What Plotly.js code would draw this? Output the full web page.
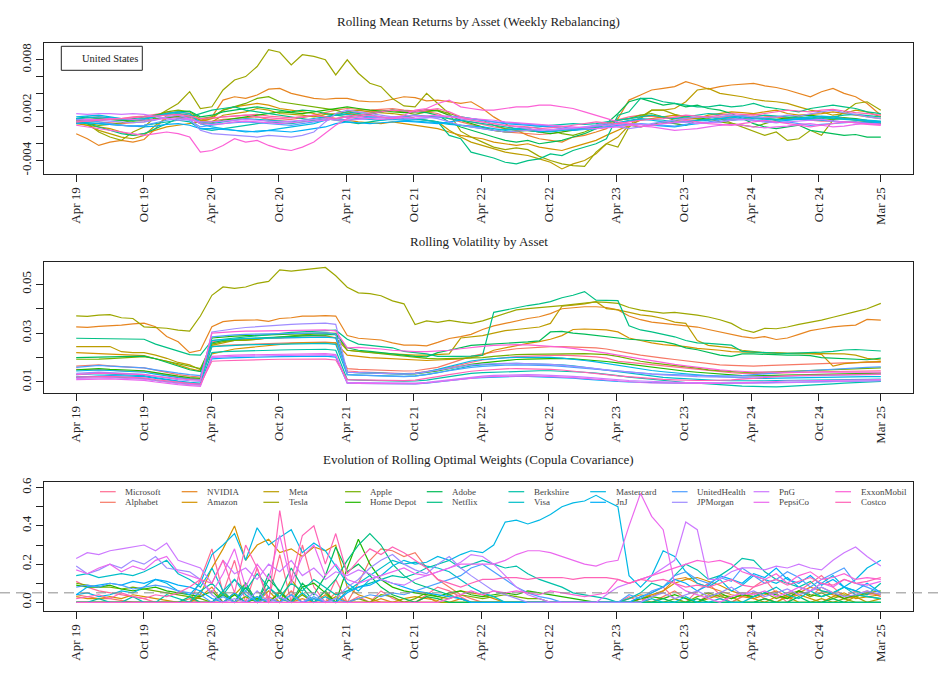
<!DOCTYPE html>
<html>
<head>
<meta charset="utf-8">
<script src="https://cdn.plot.ly/plotly-3.0.1.min.js"></script>
<style>
  body { margin: 0; background: #fff; }
  #chart { width: 943px; height: 700px; }
</style>
</head>
<body>
<div id="chart"></div>
<script>
// monthly samples
const dates = [
  '2019-04-12','2019-05-12','2019-06-12','2019-07-12','2019-08-12','2019-09-12','2019-10-12','2019-11-12','2019-12-12','2020-01-12','2020-02-12','2020-03-12',
  '2020-04-12','2020-05-12','2020-06-12','2020-07-12','2020-08-12','2020-09-12','2020-10-12','2020-11-12','2020-12-12','2021-01-12','2021-02-12','2021-03-12',
  '2021-04-12','2021-05-12','2021-06-12','2021-07-12','2021-08-12','2021-09-12','2021-10-12','2021-11-12','2021-12-12','2022-01-12','2022-02-12','2022-03-12',
  '2022-04-12','2022-05-12','2022-06-12','2022-07-12','2022-08-12','2022-09-12','2022-10-12','2022-11-12','2022-12-12','2023-01-12','2023-02-12','2023-03-12',
  '2023-04-12','2023-05-12','2023-06-12','2023-07-12','2023-08-12','2023-09-12','2023-10-12','2023-11-12','2023-12-12','2024-01-12','2024-02-12','2024-03-12',
  '2024-04-12','2024-05-12','2024-06-12','2024-07-12','2024-08-12','2024-09-12','2024-10-12','2024-11-12','2024-12-12','2025-01-12','2025-02-12','2025-03-21'
];
const tickDates = ['2019-04-12','2019-10-11','2020-04-10','2020-10-09','2021-04-09','2021-10-08','2022-04-08','2022-10-07','2023-04-07','2023-10-06','2024-04-05','2024-10-04','2025-03-21'];
const tickLabels = ['Apr 19','Oct 19','Apr 20','Oct 20','Apr 21','Oct 21','Apr 22','Oct 22','Apr 23','Oct 23','Apr 24','Oct 24','Mar 25'];

const assets = ['Microsoft','Alphabet','NVIDIA','Amazon','Meta','Tesla','Apple','Home Depot','Adobe','Netflix',
  'Berkshire','Visa','Mastercard','JnJ','UnitedHealth','JPMorgan','PnG','PepsiCo','ExxonMobil','Costco'];

// rolling mean returns, units of 1e-4
const retMicrosoft = [10,11,12,11,10,12,13,15,17,18,16,8, 10,12,13,14,15,13,12,11,12,13,12,14, 16,17,18,19,20,18,19,21,20,14,8,6, 3,0,-2,-3,-4,-6,-5,-3,-2,-1,2,5, 9,12,14,13,12,11,10,11,12,11,10,9, 10,11,12,11,9,8,7,7,6,6,5,4];
const retAlphabet = [8,7,6,5,4,5,6,9,12,13,12,6, 7,9,10,11,12,9,8,9,11,14,17,20, 22,21,20,21,22,20,19,18,16,10,6,3, 0,-4,-6,-7,-8,-9,-8,-6,-3,-1,2,5, 8,10,12,13,11,10,9,10,11,12,13,14, 15,13,12,10,9,10,11,12,11,9,7,6];
const retNVIDIA = [-8,-14,-22,-18,-16,-18,-15,-2,14,16,14,8, 12,32,36,34,38,45,46,40,37,34,33,34, 34,31,30,30,33,36,35,31,32,30,28,30, 22,12,4,-4,-10,-14,-16,-18,-12,-10,-6,-2, 10,32,38,44,46,48,54,50,45,48,50,51, 52,49,47,44,40,36,42,46,40,36,28,14];
const retAmazon = [4,2,0,-2,-6,-10,-8,-4,0,2,4,6, 10,20,24,26,28,26,22,20,18,16,12,10, 8,6,5,4,6,4,2,0,-2,-6,-10,-12, -14,-18,-20,-22,-20,-24,-26,-28,-24,-20,-16,-10, -4,2,8,10,12,14,12,10,14,16,18,17, 16,18,20,16,14,15,16,18,16,14,12,10];
const retMeta = [5,2,-4,-8,-12,-14,-10,2,10,14,16,8, 6,14,16,18,22,20,16,15,14,12,15,16, 18,20,18,17,16,14,10,8,6,-4,-12,-18, -22,-26,-30,-32,-34,-38,-42,-50,-44,-40,-32,-20, -12,2,12,20,20,22,30,44,46,40,38,36, 33,31,30,28,24,20,18,14,16,20,18,12];
const retTesla = [8,4,-6,-12,-16,-6,0,12,20,28,42,22, 24,44,56,60,72,92,89,74,86,84,80,62, 80,64,52,48,34,25,24,40,28,16,-5,-12, -18,-24,-27,-25,-27,-35,-40,-44,-46,-47,-30,-20, -24,0,10,20,20,15,12,10,8,10,5,0, -5,-10,-6,-16,-14,-4,-10,8,18,28,30,20];
const retApple = [6,4,2,3,5,8,10,14,18,20,18,10, 12,20,24,28,34,36,30,28,26,24,22,20, 16,14,15,18,20,17,15,18,20,16,12,10, 8,2,-2,-4,-2,-6,-4,-8,-10,-6,0,4, 8,10,14,16,12,8,6,8,10,6,4,2, 0,4,8,10,12,10,8,9,10,8,6,4];
const retHomeDepot = [8,9,10,9,8,7,8,10,11,12,10,4, 5,8,10,12,14,16,18,17,16,18,20,22, 24,22,20,19,18,17,18,20,19,14,8,4, 0,-4,-6,-5,-4,-6,-8,-6,-4,-2,0,2, 4,2,0,3,6,4,2,8,12,10,8,10, 12,10,9,11,13,14,12,10,11,10,8,6];
const retAdobe = [10,12,10,9,8,10,12,14,16,18,19,12, 14,18,20,22,24,22,20,18,20,19,16,14, 12,14,16,18,20,19,18,17,14,6,0,-4, -8,-12,-16,-18,-16,-20,-18,-16,-12,-8,-2,4, 16,30,34,30,26,28,24,26,22,20,16,10, 4,0,-2,0,2,-4,-6,-8,-10,-9,-12,-12];
const retNetflix = [6,4,0,-4,-8,-10,-8,-2,4,10,12,16, 20,22,24,20,18,16,14,12,10,8,10,8, 6,4,6,8,10,12,10,8,6,-10,-14,-30, -34,-37,-42,-44,-40,-38,-32,-34,-28,-24,-20,-14, 14,18,34,34,30,28,26,24,24,26,24,25, 28,24,22,20,18,22,24,26,24,22,18,16];
const retBerkshire = [6,5,4,3,2,1,2,4,6,8,6,-2, -4,-2,0,2,4,6,5,4,6,8,12,14, 18,16,14,12,10,12,14,13,12,10,8,6, 4,2,0,-2,-1,0,2,3,4,3,4,6, 8,10,12,14,12,10,12,14,16,15,14,13, 12,14,13,12,11,12,10,12,14,15,14,12];
const retVisa = [10,11,12,11,9,8,9,12,15,16,14,6, 4,6,8,10,9,8,7,6,8,10,12,14, 15,13,12,11,12,10,9,8,6,4,2,0, -2,-4,-3,-2,-4,-6,-5,-4,-3,-2,0,2, 5,8,10,9,8,6,7,8,9,10,12,13, 12,10,9,8,9,10,11,10,9,8,7,6];
const retMastercard = [12,13,14,12,10,9,10,13,16,18,16,4, 0,-2,-4,-6,-5,-4,-2,0,2,4,8,10, 12,10,9,8,9,8,7,6,5,3,2,1, 0,-2,-4,-3,-2,-5,-6,-4,-2,-1,1,3, 5,7,9,8,6,5,6,7,8,10,11,12, 10,9,8,9,10,12,13,12,10,9,8,7];
const retJnJ = [4,5,4,3,2,1,0,1,3,4,2,-2, -2,-3,-4,-5,-6,-4,-5,-6,-4,-2,0,4, 6,5,4,5,6,7,6,5,4,6,8,10, 8,6,4,3,2,1,0,-2,-4,-3,-2,0, 2,4,3,2,1,0,2,4,5,6,8,9, 8,7,6,8,10,9,8,7,6,5,6,5];
const retUnitedHealth = [9,8,6,4,2,1,2,5,8,10,8,0, 2,4,5,6,5,4,3,2,4,6,8,10, 8,10,12,11,10,9,10,11,12,13,12,10, 8,6,5,4,3,2,1,0,-2,-3,-2,0, 1,2,4,3,2,1,3,5,6,8,9,10, 8,6,5,6,4,2,3,4,5,6,4,3];
const retJPMorgan = [6,7,8,7,6,5,6,8,12,14,10,-4, -8,-9,-10,-11,-12,-10,-11,-12,-10,-6,6,16, 20,18,16,14,12,13,14,12,10,6,2,0, -2,-4,-6,-5,-4,-3,-4,-3,-2,0,2,4, 0,-2,0,4,6,8,10,12,11,12,14,13, 12,11,12,14,13,16,18,20,17,15,12,10];
const retPnG = [16,15,16,16,15,16,15,12,10,8,9,6, 6,7,8,9,8,7,6,7,8,9,10,8, 8,9,10,11,12,11,10,11,12,13,10,8, 6,4,2,0,-2,-4,-3,-2,-1,0,1,2, 3,4,3,2,4,5,6,4,5,6,8,9, 8,6,5,6,7,8,9,7,6,5,4,3];
const retPepsiCo = [8,9,9,10,10,9,8,9,10,11,10,4, 3,4,6,7,6,5,4,5,6,7,8,10, 12,11,10,9,10,11,12,13,14,12,11,10, 9,8,6,5,4,3,2,1,0,-1,-2,-1, 0,2,1,0,-2,-4,-3,-2,0,2,3,2, 0,-1,0,1,3,4,2,0,1,3,4,3];
const retExxonMobil = [2,0,-2,-4,-6,-8,-10,-8,-6,-8,-12,-30, -28,-22,-14,-18,-16,-22,-26,-28,-24,-18,-8,2, 10,12,14,12,10,14,20,22,28,32,24,22, 20,20,22,24,24,26,26,24,22,18,14,10, 6,4,0,2,4,6,8,6,4,3,2,4, 6,8,6,4,2,0,2,4,6,5,3,2];
const retCostco = [6,7,8,9,10,11,12,13,14,15,13,10, 11,12,13,14,12,11,10,11,12,14,12,10, 13,14,16,18,20,19,18,20,22,18,12,8, 6,4,2,1,0,-2,-1,0,2,4,6,5, 4,6,8,9,10,12,14,13,12,14,16,15, 14,16,18,20,19,18,20,21,19,17,16,14];

// rolling volatility, units of 1e-3
const volMicrosoft = [15.2,15.0,15.1,14.8,14.5,14.3,14.4,13.5,12.6,12.0,11.5,11.2, 26.5,27.0,27.3,27.5,27.6,27.8,28.0,28.2,28.3,28.4,28.5,28.2, 14.5,14.2,14.0,13.8,13.5,13.4,13.6,14.2,15.0,16.0,17.2,18.0, 19.0,19.6,20.0,20.4,20.6,20.8,21.0,21.0,20.8,20.6,20.3,19.8, 18.5,18.0,17.5,17.0,16.5,16.0,15.5,15.0,14.6,14.2,13.8,13.5, 13.4,13.5,13.6,13.8,14.0,14.1,14.2,14.3,14.4,14.5,14.5,14.6];
const volAlphabet = [16.5,16.8,17.0,16.6,16.2,16.0,15.8,14.8,13.8,13.0,12.4,12.0, 24.5,25.0,25.2,25.4,25.5,25.6,25.8,26.0,26.1,26.2,26.3,26.0, 15.5,15.2,15.0,14.8,14.6,14.5,14.6,15.2,16.0,17.5,19.0,20.5, 21.5,22.3,23.0,23.6,24.0,24.3,24.5,24.5,24.4,24.2,24.0,23.5, 22.5,21.8,21.0,20.3,19.8,19.2,18.6,18.0,17.5,17.0,16.8,16.6, 16.5,16.7,16.9,17.0,17.2,17.4,17.5,17.6,17.8,17.9,18.0,18.1];
const volNVIDIA = [32.6,32.4,32.8,33.0,33.3,33.8,34.1,32.6,28.6,26.5,22.0,23.0, 32.6,34.7,35.2,35.3,35.4,34.8,36.0,36.3,37.0,37.0,37.2,37.0, 29.0,27.9,27.5,27.2,26.0,25.1,25.1,24.8,26.2,27.8,28.6,29.5, 31.5,33.0,34.0,35.0,36.0,36.7,38.0,40.0,40.5,40.8,40.8,40.5, 39.5,37.0,35.5,34.5,34.0,33.5,33.3,32.5,31.5,30.5,29.5,28.6, 28.0,28.6,27.4,28.0,29.5,31.0,31.8,32.6,33.0,33.3,35.6,35.3];
const volAmazon = [22.0,21.8,21.5,21.3,21.2,21.0,20.8,19.5,18.5,17.0,15.5,14.5, 21.5,22.5,23.5,24.0,24.5,25.0,25.5,25.8,26.0,26.0,26.2,26.0, 21.0,20.5,20.0,19.8,19.5,19.2,19.0,18.8,19.0,19.2,19.5,20.0, 21.0,23.0,24.0,25.0,25.8,26.5,27.5,29.0,31.5,31.7,31.5,31.3, 30.5,28.0,27.0,26.0,25.3,25.0,24.5,23.8,23.5,23.0,22.4,22.2, 22.0,21.8,21.8,21.7,21.7,21.6,21.3,16.5,17.5,18.0,18.2,18.3];
const volMeta = [24.5,24.5,24.8,24.5,22.4,22.0,22.0,21.0,19.7,18.0,17.0,15.0, 25.0,26.0,27.0,27.0,27.5,28.0,28.0,28.5,29.0,29.0,29.0,28.0, 23.0,22.5,22.0,21.8,21.5,21.2,21.0,21.0,21.2,21.5,28.0,28.5, 29.0,30.0,31.0,31.5,32.0,32.5,34.0,41.0,41.5,42.0,42.9,40.0, 39.5,38.5,37.5,37.0,36.0,34.5,34.0,27.0,25.0,24.5,24.0,23.0, 22.5,22.0,22.0,21.7,21.7,21.7,21.8,21.7,21.5,21.0,19.7,19.0];
const volTesla = [37.1,36.9,37.4,37.6,36.3,36.0,32.6,32.4,32.0,31.2,30.8,37.0, 45.5,48.9,48.3,48.9,50.4,51.2,55.9,55.4,56.0,56.4,56.9,53.5, 48.8,46.5,46.2,45.3,43.2,42.0,33.5,35.0,34.4,35.2,34.5,34.0, 35.0,36.5,38.0,39.5,40.0,40.4,40.7,41.3,41.8,42.3,42.8,42.6, 42.2,40.5,39.4,38.8,38.2,38.5,38.0,37.4,36.6,35.5,34.0,31.5, 30.3,32.0,31.8,32.5,33.6,34.4,35.3,36.5,37.5,38.8,40.0,42.2];
const volApple = [19.3,19.2,19.4,19.6,19.8,20.0,20.4,19.5,18.5,17.5,16.3,15.5, 25.5,26.5,27.0,27.2,27.5,28.0,28.5,29.0,29.3,29.6,29.8,29.9, 23.0,22.5,22.0,21.5,21.0,20.5,20.0,19.7,19.5,19.7,19.8,20.0, 20.0,20.5,21.0,21.2,21.3,21.4,21.5,21.6,21.7,21.6,21.4,21.2, 20.5,19.5,18.5,17.8,17.3,16.8,16.3,15.7,15.0,14.6,14.3,14.0, 13.8,14.0,14.2,14.4,14.6,14.8,14.9,15.0,15.2,15.4,15.6,15.8];
const volHomeDepot = [15.0,15.3,15.5,15.2,15.0,14.8,14.6,13.8,13.0,12.4,11.8,11.5, 28.0,28.5,28.8,29.0,29.2,29.4,29.6,29.8,29.9,30.0,30.1,29.8, 14.0,13.8,13.6,13.5,13.3,13.2,13.3,13.8,14.5,15.5,16.5,17.2, 17.8,18.3,18.8,19.2,19.4,19.6,19.8,19.7,19.5,19.2,18.8,18.4, 17.8,17.2,16.6,16.0,15.4,14.9,14.4,14.0,13.6,13.2,12.9,12.6, 12.5,12.6,12.7,12.8,13.0,13.1,13.2,13.3,13.4,13.5,13.5,13.6];
const volAdobe = [20.0,20.0,20.2,20.3,20.4,20.5,20.6,19.5,18.0,16.5,15.0,14.3, 26.0,27.0,27.5,27.8,28.0,28.2,28.5,28.8,29.0,29.2,29.4,29.5, 24.0,23.0,22.5,22.0,21.5,21.0,20.5,20.3,22.0,23.0,24.0,25.0, 25.3,25.5,25.8,26.0,26.4,26.8,30.5,30.7,30.0,29.6,29.0,28.5, 28.0,27.5,27.2,27.0,26.5,25.5,24.0,23.2,22.0,21.0,20.5,21.5, 21.5,21.3,21.2,21.0,21.0,20.8,20.0,19.7,19.5,19.3,19.1,19.8];
const volNetflix = [27.9,27.8,27.6,27.7,27.7,27.6,27.5,25.5,24.0,22.5,21.2,21.0, 27.0,27.5,28.0,28.5,29.0,29.5,30.0,30.3,30.5,30.7,31.0,31.2, 27.5,25.5,25.0,24.6,24.0,22.5,22.0,21.5,20.5,20.4,20.5,20.6, 21.0,38.5,39.5,40.5,41.3,42.0,42.9,44.5,45.5,47.0,43.5,43.4, 43.3,33.0,31.3,30.5,29.5,28.5,27.0,26.0,25.8,25.4,25.1,22.5, 22.2,22.0,21.8,21.7,21.8,22.0,22.2,22.5,23.1,23.3,23.0,22.7];
const volBerkshire = [12.0,12.2,12.3,12.1,11.8,11.6,11.4,10.6,10.0,9.5,9.0,8.8, 22.0,22.4,22.6,22.8,22.9,23.0,23.1,23.2,23.3,23.4,23.4,23.0, 11.0,10.8,10.6,10.5,10.4,10.3,10.4,10.8,11.5,12.2,13.0,13.5, 13.8,14.0,14.2,14.4,14.5,14.6,14.6,14.5,14.3,14.0,13.6,13.2, 12.6,12.0,11.5,11.0,10.6,10.2,9.8,9.5,9.3,9.0,8.6,8.3, 8.1,8.0,8.0,8.2,8.4,8.6,8.9,9.2,9.5,9.8,10.0,10.2];
const volVisa = [13.0,13.2,13.4,13.2,13.0,12.8,12.6,11.8,11.0,10.4,9.9,9.6, 24.5,24.8,25.0,25.2,25.3,25.4,25.5,25.6,25.7,25.8,25.8,25.4, 13.0,12.8,12.6,12.5,12.4,12.3,12.5,13.0,13.8,14.8,15.8,16.6, 17.0,17.3,17.5,17.6,17.5,17.4,17.3,17.0,16.6,16.0,15.4,14.8, 14.0,13.4,12.8,12.3,11.9,11.6,11.3,11.0,10.8,10.6,10.5,10.4, 10.4,10.5,10.6,10.7,10.8,10.8,10.9,11.0,11.0,11.1,11.1,11.2];
const volMastercard = [14.5,14.7,14.9,14.7,14.4,14.2,14.0,13.2,12.4,11.8,11.2,10.9, 27.0,27.4,27.6,27.8,27.9,28.0,28.1,28.2,28.3,28.4,28.4,28.0, 14.0,13.8,13.6,13.5,13.4,13.3,13.5,14.2,15.2,16.4,17.6,18.6, 19.2,19.6,19.9,20.1,20.2,20.2,20.1,19.8,19.4,18.8,18.2,17.5, 16.8,16.0,15.3,14.7,14.2,13.7,13.3,12.9,12.5,12.2,11.9,11.7, 11.5,11.5,11.6,11.7,11.8,11.9,12.0,12.0,12.1,12.1,12.2,12.2];
const volJnJ = [12.0,12.2,12.5,12.6,12.5,12.3,12.2,11.5,10.8,10.2,9.6,9.2, 19.5,19.8,20.0,20.1,20.2,20.3,20.4,20.5,20.5,20.6,20.6,20.2, 9.5,9.4,9.3,9.2,9.2,9.1,9.2,9.5,10.0,10.6,11.2,11.6, 11.8,12.0,12.2,12.3,12.3,12.2,12.1,11.9,11.6,11.2,10.8,10.4, 10.2,10.0,9.8,9.7,9.6,9.5,9.5,9.4,9.4,9.4,9.5,9.5, 9.6,9.7,9.8,9.9,10.0,10.1,10.2,10.3,10.4,10.4,10.5,10.5];
const volUnitedHealth = [16.0,16.4,16.8,16.5,16.2,16.0,15.8,15.0,14.2,13.6,13.0,12.6, 28.5,29.0,29.3,29.5,29.6,29.7,29.8,29.9,30.0,30.1,30.1,29.6, 13.0,12.8,12.6,12.4,12.3,12.2,12.4,13.0,13.8,14.6,15.4,16.0, 16.4,16.7,16.9,17.0,17.0,16.9,16.7,16.4,16.0,15.6,15.2,14.8, 14.4,14.0,13.6,13.3,13.1,12.9,12.8,12.7,12.6,12.5,12.5,12.6, 13.0,13.4,13.8,14.1,14.4,14.7,15.0,15.3,15.6,15.8,16.0,16.2];
const volJPMorgan = [13.5,13.8,14.0,13.8,13.5,13.3,13.1,12.3,11.6,11.0,10.5,10.3, 30.5,31.2,31.8,32.3,32.7,33.0,33.3,33.6,33.8,34.0,34.1,33.6, 14.0,13.8,13.6,13.4,13.3,13.2,13.4,14.0,14.8,15.6,16.4,17.0, 17.3,17.5,17.6,17.6,17.5,17.4,17.2,16.9,16.5,16.0,15.5,15.0, 14.5,14.0,13.6,13.2,12.9,12.6,12.4,12.2,12.1,12.0,12.0,12.0, 12.1,12.2,12.3,12.4,12.5,12.6,12.7,12.8,12.9,13.0,13.0,13.1];
const volPnG = [11.5,11.7,11.9,11.8,11.6,11.4,11.2,10.5,9.9,9.4,9.0,8.7, 20.0,20.3,20.5,20.6,20.7,20.8,20.9,21.0,21.0,21.1,21.1,20.7, 9.8,9.7,9.6,9.5,9.4,9.4,9.5,9.9,10.4,11.0,11.6,12.0, 12.4,12.7,12.9,13.0,13.0,12.9,12.8,12.6,12.3,12.0,11.6,11.2, 10.9,10.6,10.4,10.2,10.0,9.9,9.8,9.7,9.6,9.5,9.5,9.5, 9.5,9.6,9.7,9.8,9.9,10.0,10.1,10.2,10.3,10.3,10.4,10.5];
const volPepsiCo = [11.0,11.2,11.4,11.3,11.1,10.9,10.7,10.0,9.4,8.9,8.5,8.2, 20.5,20.8,21.0,21.1,21.2,21.3,21.4,21.5,21.5,21.6,21.6,21.2, 9.5,9.4,9.3,9.2,9.1,9.1,9.2,9.6,10.1,10.7,11.3,11.7, 12.0,12.2,12.4,12.5,12.5,12.4,12.3,12.1,11.8,11.5,11.1,10.7, 10.3,10.0,9.8,9.6,9.5,9.4,9.4,9.4,9.4,9.4,9.5,9.6, 9.8,10.0,10.2,10.4,10.5,10.6,10.7,10.8,10.9,10.9,11.0,11.0];
const volExxonMobil = [13.0,13.3,13.6,13.5,13.4,13.2,13.0,12.4,11.8,11.4,11.0,10.8, 30.0,30.4,30.6,30.8,30.9,31.0,31.1,31.2,31.2,31.3,31.3,30.9, 24.0,24.2,24.0,23.5,23.0,22.6,22.4,22.4,22.6,23.0,23.6,24.2, 24.6,25.0,25.2,25.3,25.2,25.0,24.7,24.3,23.8,23.2,22.5,21.8, 21.0,20.2,19.4,18.6,17.9,17.2,16.6,16.0,15.5,15.0,14.6,14.3, 14.1,14.0,13.9,13.9,13.9,14.0,14.0,14.0,14.0,14.0,14.0,14.0];
const volCostco = [12.0,12.2,12.4,12.3,12.1,11.9,11.7,11.0,10.4,9.9,9.4,9.1, 18.5,18.7,18.9,19.0,19.1,19.2,19.3,19.3,19.4,19.4,19.4,19.0, 11.0,10.9,10.8,10.7,10.6,10.6,10.8,11.4,12.2,13.0,13.8,14.4, 14.8,15.2,15.4,15.5,15.5,15.4,15.2,14.9,14.5,14.0,13.5,13.0, 12.5,12.1,11.7,11.4,11.1,10.9,10.7,10.6,10.6,10.7,10.9,11.2, 11.6,12.0,12.3,12.5,12.7,12.8,12.9,13.0,13.0,13.1,13.1,13.2];

// optimal weights, percent
const wMicrosoft = [11,8,6,5,4,3,2,0,0,0,0,12, 28,5,22,0,18,2,25,0,30,8,0,12, 0,3,0,6,2,0,0,4,8,6,3,0, 0,0,0,0,0,0,0,0,0,0,0,0, 0,3,0,5,8,2,0,6,10,4,0,3, 8,12,5,0,6,10,14,8,3,6,4,5];
const wAlphabet = [4,3,2,2,1,0,0,0,0,0,2,0, 0,4,0,8,0,3,0,6,0,2,0,5, 0,10,22,28,27,24,26,18,12,8,4,2, 0,0,0,0,0,0,0,0,0,0,0,0, 0,0,2,0,3,6,2,0,4,2,0,3, 5,2,0,4,6,3,8,5,2,4,6,3];
const wNVIDIA = [0,0,0,0,0,0,0,0,0,0,0,3, 8,0,5,0,3,0,6,0,2,0,4,0, 0,0,0,2,0,0,0,3,0,0,2,0, 0,0,0,0,0,0,0,0,0,0,0,0, 0,2,4,3,6,12,13,10,8,6,4,3, 2,4,6,3,5,8,6,4,2,3,5,4];
const wAmazon = [3,2,2,3,2,4,3,2,1,0,0,4, 18,28,40,22,30,33,26,28,24,29,27,30, 8,4,2,0,0,2,3,2,1,4,6,5, 4,2,0,0,0,0,0,0,0,0,0,0, 0,0,2,4,6,10,12,13,11,9,6,4, 2,0,3,2,4,2,0,3,5,2,3,4];
const wMeta = [0,0,0,0,0,0,0,0,0,0,0,0, 0,0,4,10,0,6,0,12,4,0,0,3, 0,0,0,0,0,0,0,0,0,0,0,0, 0,0,0,0,0,0,0,0,0,0,0,0, 0,0,0,0,0,0,0,0,2,4,3,0, 0,2,0,3,0,0,2,0,0,3,0,2];
const wTesla = [0,0,0,0,0,0,0,0,0,0,0,0, 0,0,0,0,2,0,0,0,0,0,0,0, 0,0,0,0,0,0,0,0,0,0,0,0, 0,0,0,0,0,0,0,0,0,0,0,0, 0,0,0,0,0,0,0,0,0,0,0,0, 0,0,0,0,0,0,0,0,2,0,0,0];
const wApple = [10,9,8,8,7,8,7,6,5,4,3,2, 0,5,0,3,0,8,2,0,4,0,6,0, 0,2,0,4,3,0,2,5,3,2,4,3, 2,3,4,3,2,2,0,0,0,0,0,0, 0,0,0,0,0,2,0,3,5,3,2,4, 3,5,2,4,6,3,5,2,4,3,5,6];
const wHomeDepot = [9,8,8,9,7,6,7,8,6,5,4,3, 6,0,4,0,2,0,5,0,8,10,5,0, 18,33,20,12,8,6,5,4,3,5,6,4, 3,4,5,4,6,5,4,3,2,1,0,0, 0,0,2,3,2,4,2,0,3,5,2,4, 3,5,4,2,6,4,3,5,2,4,3,2];
const wAdobe = [0,0,0,0,0,0,0,0,0,0,0,0, 0,4,0,8,0,12,6,0,10,4,14,29, 16,20,14,8,4,2,0,3,2,0,0,0, 0,0,0,0,0,0,0,0,0,0,0,0, 0,0,0,0,2,0,0,2,0,0,0,0, 0,2,0,0,3,0,0,2,0,0,0,0];
const wNetflix = [0,0,0,0,0,0,0,0,0,0,3,0, 0,6,0,10,0,15,5,18,8,0,6,12, 22,30,36,30,20,14,10,8,6,4,2,0, 0,0,0,0,0,0,0,0,0,0,0,0, 0,0,0,0,0,0,0,0,0,0,0,0, 0,0,0,0,0,0,0,0,0,0,0,0];
const wBerkshire = [0,0,2,0,0,3,0,0,4,2,0,6, 10,4,12,6,15,8,3,10,6,12,8,4, 6,8,10,12,14,13,15,18,20,22,18,20, 22,20,18,19,15,12,10,8,5,4,3,2, 0,2,5,10,8,14,20,17,12,14,18,23, 22,16,12,10,8,11,6,5,8,6,4,10];
const wVisa = [14,15,13,14,15,14,16,19,22,15,12,8, 18,6,12,4,0,8,2,0,5,0,3,0, 6,10,14,18,22,20,21,19,18,16,12,8, 5,3,0,0,0,0,0,0,0,0,0,0, 0,0,0,2,0,0,3,0,0,2,0,0, 3,5,8,4,2,6,3,5,8,4,3,2];
const wMastercard = [4,5,3,4,6,5,8,12,10,6,4,10, 25,30,36,22,39,30,34,38,26,31,27,19, 10,6,12,14,19,22,20,21,24,22,25,27, 26,30,42,43,41,43,46,50,52,53,56,53, 50,14,8,14,27,24,16,10,8,12,6,9, 14,12,10,13,8,6,10,14,8,12,18,22];
const wJnJ = [4,8,9,10,9,11,10,12,11,9,8,6, 2,0,5,0,3,0,0,4,0,2,0,0, 5,8,9,12,10,8,6,5,4,3,2,0, 0,0,0,0,0,0,0,0,0,0,0,0, 0,0,3,5,8,12,10,6,9,14,12,10, 15,13,18,12,10,14,9,12,8,6,10,5];
const wUnitedHealth = [8,9,8,10,9,7,8,9,8,6,5,4, 0,3,0,6,0,2,0,4,0,3,0,2, 0,2,4,3,5,4,6,8,10,12,14,18, 20,16,12,8,5,3,2,0,0,0,0,0, 0,4,2,6,8,14,16,12,10,13,11,18, 14,10,12,16,13,8,12,15,18,10,8,5];
const wJPMorgan = [19,15,17,20,18,22,20,24,18,17,16,12, 4,0,2,0,6,0,3,0,0,5,0,2, 8,12,18,22,25,20,17,15,20,24,18,14, 10,6,4,2,0,0,0,0,0,0,0,0, 0,0,0,3,5,2,4,6,3,5,8,4, 6,3,5,7,4,6,8,5,3,4,6,4];
const wPnG = [23,26,25,27,28,29,30,27,31,22,20,18, 10,22,15,18,12,20,16,22,14,18,12,16, 14,17,15,12,10,9,12,14,16,18,21,25, 24,20,14,8,4,2,0,0,0,0,0,4, 8,10,12,14,18,22,42,38,12,12,16,18, 18,17,19,18,20,18,17,22,26,29,24,19];
const wPepsiCo = [17,15,18,20,16,19,17,22,24,16,14,12, 5,15,28,8,20,12,35,10,24,30,14,20, 12,10,12,14,16,18,15,14,16,18,20,20, 20,20,22,25,27,27,26,24,22,20,19,21, 22,40,57,45,38,10,6,4,2,0,3,5, 4,6,3,5,8,6,10,8,12,10,9,11];
const wExxonMobil = [0,0,0,0,0,0,0,0,0,0,0,0, 0,0,0,0,0,0,0,0,0,0,0,0, 0,0,0,0,0,0,0,0,0,2,4,6, 4,6,5,6,5,4,6,5,4,3,4,5, 12,10,12,14,16,18,20,22,21,22,20,16, 14,12,15,10,14,16,12,13,15,12,13,12];
const wCostco = [2,3,4,2,5,3,2,4,3,5,8,12, 10,22,5,30,18,0,48,12,35,40,20,36, 15,22,28,25,29,26,22,18,12,10,8,10, 12,12,13,13,12,13,13,13,12,13,13,13, 12,10,12,11,12,10,8,9,8,10,12,9, 8,10,12,9,11,13,10,9,12,10,11,13];

const retSeries = [retMicrosoft, retAlphabet, retNVIDIA, retAmazon, retMeta, retTesla, retApple, retHomeDepot, retAdobe, retNetflix,
  retBerkshire, retVisa, retMastercard, retJnJ, retUnitedHealth, retJPMorgan, retPnG, retPepsiCo, retExxonMobil, retCostco];
const volSeries = [volMicrosoft, volAlphabet, volNVIDIA, volAmazon, volMeta, volTesla, volApple, volHomeDepot, volAdobe, volNetflix,
  volBerkshire, volVisa, volMastercard, volJnJ, volUnitedHealth, volJPMorgan, volPnG, volPepsiCo, volExxonMobil, volCostco];
const wSeries = [wMicrosoft, wAlphabet, wNVIDIA, wAmazon, wMeta, wTesla, wApple, wHomeDepot, wAdobe, wNetflix,
  wBerkshire, wVisa, wMastercard, wJnJ, wUnitedHealth, wJPMorgan, wPnG, wPepsiCo, wExxonMobil, wCostco];

// ggplot-like hue palette (HCL, L=65, C=100)
function hcl(h, c, l) {
  const a = h * Math.PI / 180;
  const U = c * Math.cos(a), V = c * Math.sin(a);
  const un = 0.1978398, vn = 0.4683363;
  const Y = l > 8 ? Math.pow((l + 16) / 116, 3) : l / 903.3;
  const u = U / (13 * l) + un, v = V / (13 * l) + vn;
  const X = Y * 9 * u / (4 * v), Z = Y * (12 - 3 * u - 20 * v) / (4 * v);
  const lin = [3.2404542 * X - 1.5371385 * Y - 0.4985314 * Z,
              -0.9692660 * X + 1.8760108 * Y + 0.0415560 * Z,
               0.0556434 * X - 0.2040259 * Y + 1.0572252 * Z];
  return 'rgb(' + lin.map(t => {
    t = t <= 0.0031308 ? 12.92 * t : 1.055 * Math.pow(t, 1 / 2.4) - 0.055;
    return Math.round(255 * Math.min(1, Math.max(0, t)));
  }).join(',') + ')';
}
const colors = assets.map((_, k) => hcl(18 * k, 100, 65));

const FONT = "'Liberation Serif', 'DejaVu Serif', serif";
const INK = '#222';
const tickFont = { family: FONT, size: 13, color: INK };
const xRange = ['2019-01-15 04:48', '2025-06-15 19:12'];

// pixel -> paper helpers (plot area is 44..913 x 43..611)
const PX = x => (x - 44) / 869;
const PY = y => (611 - y) / 568;

const traces = [];
const panels = [
  { data: retSeries, scale: 1e-4, xa: 'x',  ya: 'y'  },
  { data: volSeries, scale: 1e-3, xa: 'x2', ya: 'y2' },
  { data: wSeries,   scale: 1e-2, xa: 'x3', ya: 'y3' }
];
panels.forEach(p => {
  p.data.forEach((vals, k) => {
    traces.push({
      type: 'scatter', mode: 'lines', name: assets[k],
      x: dates, y: vals.map(v => v * p.scale),
      xaxis: p.xa, yaxis: p.ya,
      line: { color: colors[k], width: 1.2 },
      hoverinfo: 'skip', showlegend: false
    });
  });
});

function xAxis(anchor) {
  return {
    anchor: anchor, type: 'date', range: xRange,
    tickvals: tickDates, ticktext: tickLabels, tickangle: -90,
    ticks: 'outside', ticklen: 7, tickwidth: 1, tickcolor: INK,
    showline: true, mirror: true, linecolor: INK, linewidth: 1,
    showgrid: false, zeroline: false, tickfont: tickFont
  };
}
function yAxis(anchor, domain, range, vals, text) {
  return {
    anchor: anchor, domain: domain, range: range,
    tickvals: vals, ticktext: text, tickangle: -90,
    ticks: 'outside', ticklen: 7, tickwidth: 1, tickcolor: INK,
    showline: true, mirror: true, linecolor: INK, linewidth: 1,
    showgrid: false, zeroline: false, tickfont: tickFont
  };
}

const shapes = [
  // reference line at 0.05 on the weights panel
  { type: 'line', xref: 'paper', yref: 'y3', x0: PX(0), x1: PX(943), y0: 0.05, y1: 0.05,
    line: { color: '#8c8c8c', width: 1, dash: '10px,6px' } },
  // "United States" legend box
  { type: 'rect', xref: 'paper', yref: 'paper', x0: PX(61.3), x1: PX(142.3), y0: PY(70.3), y1: PY(46.3),
    line: { color: INK, width: 1 }, fillcolor: 'rgba(0,0,0,0)' }
];

const annotations = [
  { text: 'Rolling Mean Returns by Asset (Weekly Rebalancing)', x: 0.5, y: PY(22), xref: 'paper', yref: 'paper',
    showarrow: false, xanchor: 'center', yanchor: 'middle', font: { family: FONT, size: 13, color: INK } },
  { text: 'Rolling Volatility by Asset', x: 0.5, y: PY(241), xref: 'paper', yref: 'paper',
    showarrow: false, xanchor: 'center', yanchor: 'middle', font: { family: FONT, size: 13, color: INK } },
  { text: 'Evolution of Rolling Optimal Weights (Copula Covariance)', x: 0.5, y: PY(459.5), xref: 'paper', yref: 'paper',
    showarrow: false, xanchor: 'center', yanchor: 'middle', font: { family: FONT, size: 13, color: INK } },
  { text: 'United States', x: PX(79.7), y: PY(58.3), xref: 'paper', yref: 'paper',
    showarrow: false, xanchor: 'left', yanchor: 'middle', font: { family: FONT, size: 10.5, color: INK } }
];

// legend of the weights panel: 10 columns x 2 rows, filled by column
assets.forEach((name, k) => {
  const col = Math.floor(k / 2), row = k % 2;
  const x0 = 100 + 81.7 * col, y = 491.7 + 10.6 * row;
  shapes.push({ type: 'line', xref: 'paper', yref: 'paper', x0: PX(x0), x1: PX(x0 + 15.7), y0: PY(y), y1: PY(y),
    line: { color: colors[k], width: 1.2 } });
  annotations.push({ text: name, x: PX(x0 + 23.3), y: PY(y), xref: 'paper', yref: 'paper',
    showarrow: false, xanchor: 'left', yanchor: 'middle', font: { family: FONT, size: 9, color: '#444' } });
});

const layout = {
  width: 943, height: 700,
  margin: { l: 44, r: 30, t: 43, b: 89 },
  paper_bgcolor: '#fff', plot_bgcolor: '#fff',
  showlegend: false,
  font: { family: FONT, color: INK },
  xaxis: xAxis('y'),
  yaxis: yAxis('x', [0.7694, 1.0], [-0.0056, 0.0100],
    [-0.004, -0.002, 0, 0.002, 0.004, 0.006, 0.008], ['-0.004', '', '', '0.002', '', '', '0.008']),
  xaxis2: xAxis('y2'),
  yaxis2: yAxis('x2', [0.3843, 0.6139], [0.00561, 0.0590],
    [0.01, 0.02, 0.03, 0.04, 0.05], ['0.01', '', '0.03', '', '0.05']),
  xaxis3: xAxis('y3'),
  yaxis3: yAxis('x3', [0, 0.2276], [-0.045, 0.631],
    [0, 0.1, 0.2, 0.3, 0.4, 0.5, 0.6], ['0.0', '', '0.2', '', '0.4', '', '0.6']),
  shapes: shapes,
  annotations: annotations
};

Plotly.newPlot('chart', traces, layout, { displayModeBar: false, staticPlot: true });
</script>
</body>
</html>
